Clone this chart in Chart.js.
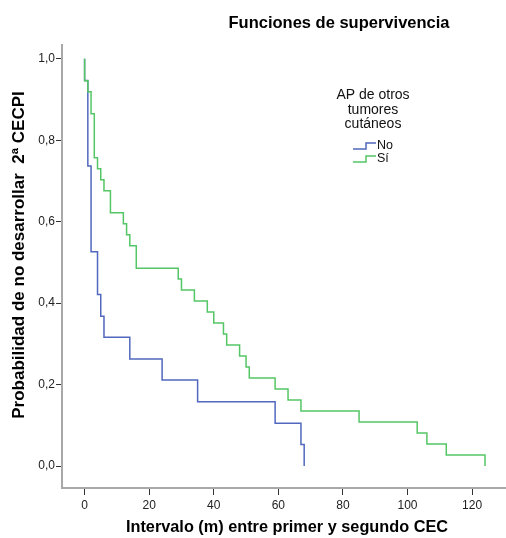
<!DOCTYPE html>
<html>
<head>
<meta charset="utf-8">
<script src="https://cdn.jsdelivr.net/npm/chart.js@4"></script>
<style>
  body { margin: 0; background: #fff; }
  canvas { display: block; }
</style>
</head>
<body>
<canvas id="km" width="506" height="538"></canvas>
<script>
// Kaplan-Meier curves
const noTimes = [0, 0, 1, 2, 4, 5, 6, 14, 24, 35, 59, 67, 68];
const noSurv = [1, 0.947, 0.737, 0.526, 0.421, 0.368, 0.316, 0.263, 0.211, 0.158, 0.105, 0.053, 0];
const siTimes = [0, 0, 1, 2, 3, 4, 5, 6, 8, 12, 13, 14, 16, 29, 30, 34, 38, 40, 43, 44, 48, 50, 51, 59, 63, 67, 85, 103, 106, 112, 124];
const siSurv = [1, 0.946, 0.919, 0.865, 0.757, 0.730, 0.703, 0.676, 0.622, 0.595, 0.568, 0.541, 0.486, 0.459, 0.432, 0.405, 0.378, 0.351, 0.324, 0.297, 0.270, 0.243, 0.216, 0.189, 0.162, 0.135, 0.108, 0.081, 0.054, 0.027, 0];
const groups = ["No", "Sí"];
const xTicks = [0, 20, 40, 60, 80, 100, 120];
const yTicks = [0, 0.2, 0.4, 0.6, 0.8, 1.0];

const blue = "#5168be";
const green = "#55c665";
const font = "Liberation Sans, Arial, sans-serif";

function toPoints(times, surv) {
  return times.map((t, i) => ({ x: t, y: surv[i] }));
}

const textPlugin = {
  id: "texts",
  afterDraw(chart) {
    const ctx = chart.ctx;
    ctx.save();
    ctx.fillStyle = "#000";
    ctx.textAlign = "center";
    ctx.textBaseline = "middle";
    ctx.font = "bold 16.5px " + font;
    ctx.fillText("Funciones de supervivencia", 339, 23);
    ctx.font = "bold 16.3px " + font;
    ctx.fillText("Intervalo (m) entre primer y segundo CEC", 287, 528);
    ctx.save();
    ctx.translate(19, 255);
    ctx.rotate(-Math.PI / 2);
    ctx.font = "bold 17px " + font;
    ctx.fillText("Probabilidad de no desarrollar  2ª CECPI", 0, 0);
    ctx.restore();

    // legend
    ctx.font = "14px " + font;
    ctx.fillStyle = "#111";
    ctx.fillText("AP de otros", 373, 95);
    ctx.fillText("tumores", 373, 110);
    ctx.fillText("cutáneos", 373, 124);
    const cols = [blue, green];
    ctx.textAlign = "left";
    ctx.font = "12.5px " + font;
    groups.forEach((g, i) => {
      const y = 146 + i * 13;
      ctx.strokeStyle = cols[i];
      ctx.lineWidth = 1.5;
      ctx.beginPath();
      ctx.moveTo(353, y + 3);
      ctx.lineTo(366, y + 3);
      ctx.lineTo(366, y - 3);
      ctx.lineTo(376, y - 3);
      ctx.stroke();
      ctx.fillText(g, 377, y);
    });
    ctx.restore();
  }
};

new Chart(document.getElementById("km"), {
  type: "line",
  data: {
    datasets: [
      { label: groups[0], data: toPoints(noTimes, noSurv), borderColor: blue, order: 1 },
      { label: groups[1], data: toPoints(siTimes, siSurv), borderColor: green, order: 0 }
    ]
  },
  options: {
    responsive: false,
    animation: false,
    layout: { padding: { top: 45, right: 0, bottom: 0, left: 0 } },
    elements: {
      line: { stepped: true, borderWidth: 1.5, fill: false, tension: 0 },
      point: { radius: 0 }
    },
    plugins: { legend: { display: false }, title: { display: false }, tooltip: { enabled: false } },
    scales: {
      x: {
        type: "linear",
        min: -7,
        max: 130.5,
        afterFit: s => { s.height = 50; },
        afterBuildTicks: s => { s.ticks = xTicks.map(v => ({ value: v })); },
        grid: { drawOnChartArea: false, drawTicks: true, tickLength: 7, tickColor: "#333" },
        border: { color: "#a8a8a8", width: 2 },
        ticks: { font: { family: font, size: 12 }, color: "#222", padding: 3, maxRotation: 0, autoSkip: false }
      },
      y: {
        type: "linear",
        min: -0.054,
        max: 1.034,
        afterFit: s => { s.width = 62; },
        afterBuildTicks: s => { s.ticks = yTicks.map(v => ({ value: v })); },
        grid: { drawOnChartArea: false, drawTicks: true, tickLength: 6, tickColor: "#333" },
        border: { color: "#a8a8a8", width: 2 },
        ticks: {
          font: { family: font, size: 12 },
          color: "#222",
          padding: 1,
          callback: v => v.toFixed(1).replace(".", ",")
        }
      }
    }
  },
  plugins: [textPlugin]
});
</script>
</body>
</html>
